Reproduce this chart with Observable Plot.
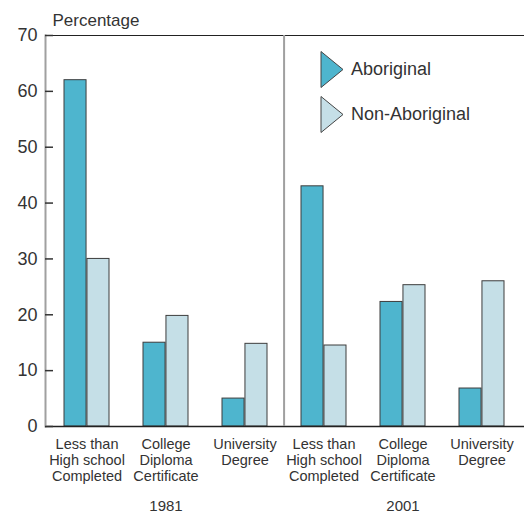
<!DOCTYPE html>
<html><head><meta charset="utf-8">
<script src="https://cdn.jsdelivr.net/npm/d3@7"></script>
<script src="https://cdn.jsdelivr.net/npm/@observablehq/plot@0.6"></script>
<style>
html,body{margin:0;padding:0;background:#fff;overflow:hidden;}
#wrap{position:relative;width:524px;height:514px;font-family:"Liberation Sans",Arial,sans-serif;color:#333;}
#legend{position:absolute;left:320px;top:51px;}
.item{display:flex;align-items:center;height:37px;margin-bottom:8px;font-size:18px;color:#333;}
.item svg{margin-right:7px;}
</style></head>
<body><div id="wrap"><div id="legend"></div></div>
<script>
const years = ["1981", "2001"];
const categories = ["Less than\nHigh school\nCompleted", "College\nDiploma\nCertificate", "University\nDegree"];
const series = ["Aboriginal", "Non-Aboriginal"];
const aboriginal = [62, 15, 5, 43, 22.3, 6.8];
const nonAboriginal = [30, 19.8, 14.8, 14.5, 25.3, 26];
const yTicks = [0, 10, 20, 30, 40, 50, 60, 70];
const seriesColors = ["#4eb5ce", "#c5dfe7"];

const rows = [];
years.forEach((yr, i) => categories.forEach((c, j) => {
  const k = i * categories.length + j;
  rows.push({key: yr + "|" + c, year: yr, cat: c, aboriginal: aboriginal[k], non: nonAboriginal[k]});
}));
const keys = rows.map(d => d.key);
const mids = years.map(yr => yr + "|" + categories[1]);

const W = 524, H = 514, mL = 45, mR = 0;
const pi = 0.425, po = 0.2125;
const step = (W - mL - mR) / (keys.length - pi + 2 * po);
const half = step * (1 - pi) / 2;

const plot = Plot.plot({
  width: W, height: H, marginTop: 35, marginBottom: 88, marginLeft: mL, marginRight: mR,
  style: {fontFamily: "'Liberation Sans', Arial, sans-serif", color: "#333", background: "white", overflow: "visible"},
  x: {type: "band", domain: keys, paddingInner: pi, paddingOuter: po, axis: null},
  y: {domain: [0, 70], axis: null},
  marks: [
    Plot.barY(rows, {x: "key", y: "aboriginal", fill: seriesColors[0], stroke: "#3d3d3d", strokeWidth: 1, insetRight: half}),
    Plot.barY(rows, {x: "key", y: "non", fill: seriesColors[1], stroke: "#3d3d3d", strokeWidth: 1, insetLeft: half}),
    Plot.ruleY([70], {stroke: "#222", strokeWidth: 1.2}),
    Plot.ruleY([0], {stroke: "#222", strokeWidth: 1.5}),
    Plot.frame({anchor: "left", stroke: "#a0a0a0", strokeWidth: 2}),
    Plot.ruleX([keys[3]], {dx: -step / 2, stroke: "#a0a0a0", strokeWidth: 2}),
    Plot.axisY({ticks: yTicks, tickSize: -8, tickPadding: 16, fontSize: 18, strokeWidth: 1.5}),
    Plot.text(rows, {x: "key", text: "cat", frameAnchor: "bottom", lineAnchor: "top", dy: 11, fontSize: 14.5, lineHeight: 1.1, fill: "#333"}),
    Plot.text(mids, {x: d => d, text: d => d.split("|")[0], frameAnchor: "bottom", dy: 84, fontSize: 15, fill: "#333"}),
    Plot.text(["Percentage"], {frameAnchor: "top-left", textAnchor: "start", lineAnchor: "middle", dx: 7, dy: -15, fontSize: 17, text: d => d, fill: "#333"})
  ]
});
document.getElementById("wrap").prepend(plot);

const legend = document.getElementById("legend");
series.forEach((s, i) => {
  const div = document.createElement("div");
  div.className = "item";
  div.innerHTML = `<svg width="24" height="37"><polygon points="1,0.5 23,18.5 1,36.5" fill="${seriesColors[i]}" stroke="#444" stroke-width="1"/></svg><span>${s}</span>`;
  legend.appendChild(div);
});
</script>
</body></html>
